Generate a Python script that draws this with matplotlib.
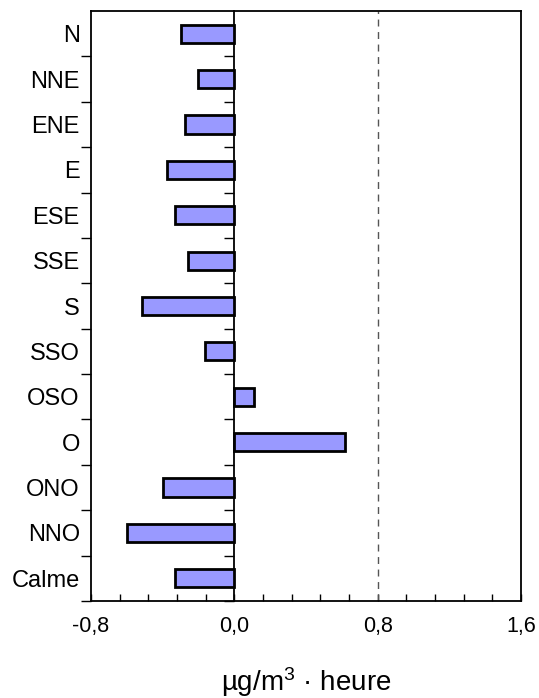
import matplotlib.pyplot as plt
import numpy as np

# secteurs de vent et valeurs (µg/m3 · heure)
secteurs = ['N', 'NNE', 'ENE', 'E', 'ESE', 'SSE', 'S', 'SSO', 'OSO', 'O', 'ONO', 'NNO', 'Calme']
valeurs = [-0.30, -0.20, -0.275, -0.375, -0.33, -0.26, -0.515, -0.165, 0.11, 0.62, -0.40, -0.60, -0.33]
x_ticks = [-0.8, 0.0, 0.8, 1.6]
x_labels = ['-0,8', '0,0', '0,8', '1,6']

plt.rcParams['font.family'] = ['Liberation Sans', 'DejaVu Sans']
plt.rcParams['mathtext.fontset'] = 'custom'
plt.rcParams['mathtext.rm'] = 'Liberation Sans'
plt.rcParams['mathtext.it'] = 'Liberation Sans'

fig = plt.figure(figsize=(5.39, 6.98), dpi=100)
ax = fig.add_axes([0.1688, 0.139, 0.7978, 0.8452])

pos = np.arange(len(secteurs))
ax.barh(pos, valeurs, height=0.4, color='#9999FF', edgecolor='black', linewidth=2)

ax.set_xlim(-0.8, 1.6)
ax.set_ylim(12.5, -0.5)

# ligne de référence à 0,8
ax.axvline(0.8, color='#555555', linestyle=(0, (5, 4)), linewidth=1)

# axe x
ax.set_xticks(x_ticks)
ax.set_xticklabels(x_labels, fontsize=15.5)
ax.set_xticks(np.arange(-0.8, 1.61, 0.16), minor=True)
ax.tick_params(axis='x', which='both', direction='in', length=5, width=1, pad=11)
ax.set_xlabel('µg/m$^3$ · heure', fontsize=20, labelpad=20)

# axe y : étiquettes centrées, tirets entre les catégories
ax.set_yticks(pos)
ax.set_yticklabels(secteurs, fontsize=17)
ax.set_yticks(pos + 0.5, minor=True)
ax.tick_params(axis='y', which='major', length=0, pad=8)
ax.tick_params(axis='y', which='minor', direction='out', length=7, width=1)

for sp in ax.spines.values():
    sp.set_linewidth(1.3)

# ligne du zéro avec ses tirets
zero = ax.secondary_yaxis(1 / 3)
zero.set_yticks([])
zero.set_yticks(pos + 0.5, minor=True)
zero.tick_params(axis='y', which='minor', direction='out', length=7, width=1)
zero.spines['left'].set_linewidth(1.3)

plt.savefig('out.png', dpi=100)
